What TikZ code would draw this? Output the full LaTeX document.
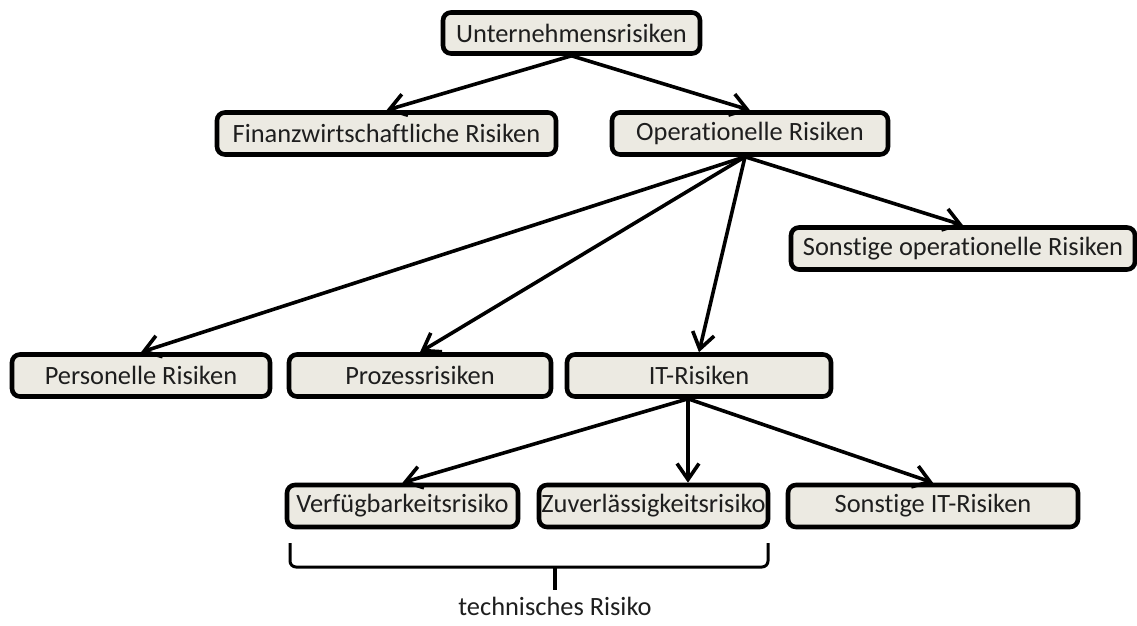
\documentclass[tikz,border=0pt]{standalone}
\usepackage{fontspec}
\setmainfont[Ligatures=NoCommon]{Carlito}
\usetikzlibrary{arrows.meta}
\definecolor{boxfill}{RGB}{236,234,226}
\definecolor{schrift}{RGB}{30,30,30}

\begin{document}
\begin{tikzpicture}[x=0.5pt,y=-0.5pt,
    risk/.style={draw=black,line width=2.3pt,rounded corners=4pt,fill=boxfill,text=schrift,
        minimum height=21pt,inner sep=0pt,font=\fontsize{13.2}{15}\selectfont},
    pfeil/.style={line width=1.8pt,-{Straight Barb[length=8pt,width=11pt,line width=1.8pt]}}]
    \useasboundingbox (0,0) rectangle (1137,626);

    % obere Ebene
    \node[risk,minimum width=128.5pt,minimum height=20.5pt] (unt) at (571.5,33) {Unternehmensrisiken};
    \node[risk,minimum width=169.5pt] (fin) at (386.5,133.5) {Finanzwirtschaftliche Risiken};
    \node[risk,minimum width=138pt] (op) at (750,133.5) {Operationelle Risiken};
    \node[risk,minimum width=172pt] (sop) at (963,248.5) {Sonstige operationelle Risiken};

    % mittlere Ebene
    \node[risk,minimum width=129pt] (pers) at (141,375.5) {Personelle Risiken};
    \node[risk,minimum width=131pt] (proz) at (420,375.5) {Prozessrisiken};
    \node[risk,minimum width=132pt] (it) at (699,375.5) {IT-Risiken};

    % untere Ebene
    \node[risk,minimum width=115.5pt] (verf) at (402.5,506) {Verfügbarkeitsrisiko};
    \node[risk,minimum width=114.5pt] (zuv) at (653.5,506) {Zuverlässigkeitsrisiko};
    \node[risk,minimum width=145pt] (sit) at (933,506) {Sonstige IT-Risiken};

    \coordinate (opb) at ([xshift=-2.5pt]op.south);
    \coordinate (itb) at ([xshift=-5.5pt]it.south);

    \draw[pfeil] (unt.south) -- (fin.north);
    \draw[pfeil] (unt.south) -- (op.north);
    \foreach \ziel in {pers,proz,it,sop}
        \draw[pfeil] (opb) -- (\ziel.north);
    \draw[pfeil] (itb) -- (verf.north);
    \draw[pfeil] (itb) -- (itb |- zuv.north);
    \draw[pfeil] (itb) -- (sit.north);

    % Klammer
    \draw[line width=1.5pt,rounded corners=3pt] (290,543) -- (290,567) -- (768,567) -- (768,543);
    \draw[line width=1.6pt] (555,567) -- (555,590);
    \node[text=schrift,font=\fontsize{13.2}{15}\selectfont] (tech) at (555,606) {technisches Risiko};
\end{tikzpicture}
\end{document}
